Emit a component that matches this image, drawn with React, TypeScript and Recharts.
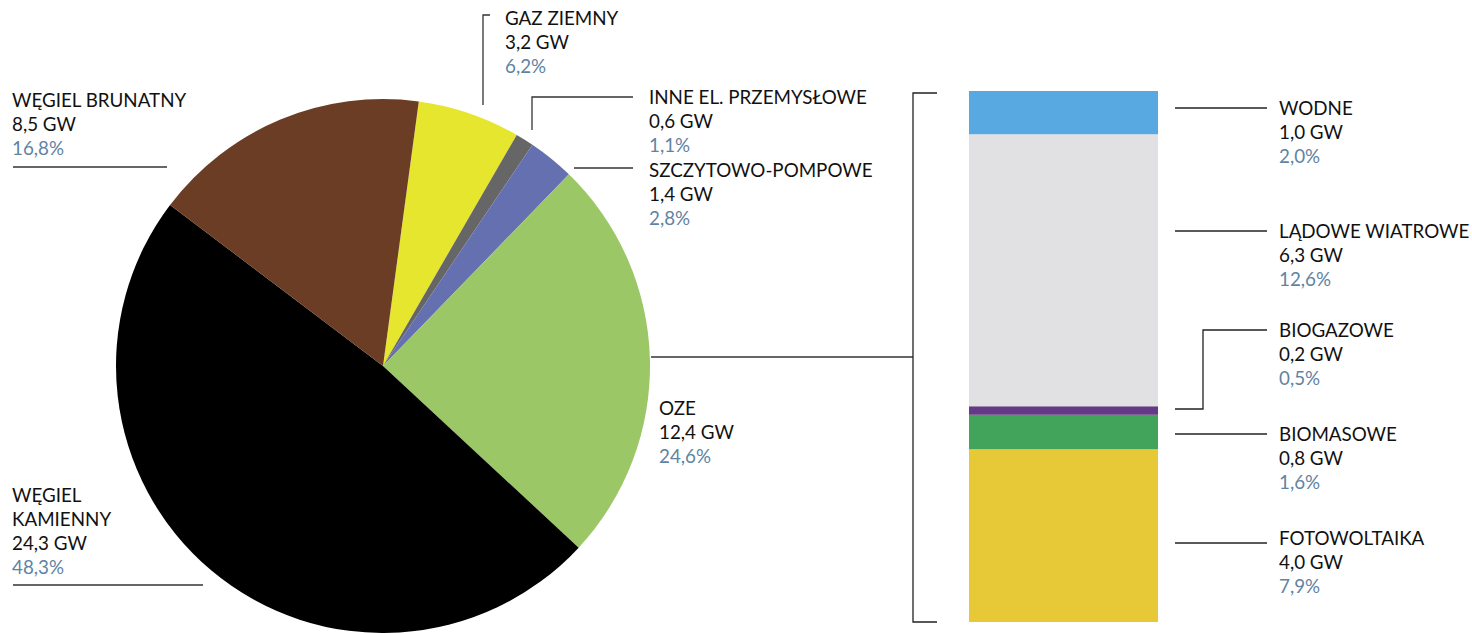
import { PieChart, Pie, Cell, BarChart, Bar, XAxis, YAxis } from 'recharts';

// main pie: installed capacity by source
const pieNames = ['GAZ ZIEMNY', 'INNE EL. PRZEMYSŁOWE', 'SZCZYTOWO-POMPOWE', 'OZE', 'WĘGIEL KAMIENNY', 'WĘGIEL BRUNATNY'];
const pieGW = [3.2, 0.6, 1.4, 12.4, 24.3, 8.5];
const piePct = [6.2, 1.1, 2.8, 24.6, 48.3, 16.8];
const pieColors = ['#e6e62e', '#666666', '#6470b0', '#9bc766', '#000000', '#6b3d24'];

// OZE breakdown (bottom to top)
const ozeNames = ['FOTOWOLTAIKA', 'BIOMASOWE', 'BIOGAZOWE', 'LĄDOWE WIATROWE', 'WODNE'];
const ozeGW = [4.0, 0.8, 0.2, 6.3, 1.0];
const ozePct = [7.9, 1.6, 0.5, 12.6, 2.0];
const ozeColors = ['#e7c836', '#42a45b', '#643985', '#e1e1e3', '#58a9e2'];

const pieData = pieNames.map((name, i) => ({ name, value: piePct[i] }));
const ozeRow: Record<string, number | string> = { name: 'OZE' };
ozeNames.forEach((n, i) => { ozeRow[n] = ozeGW[i]; });
const ozeTotal = ozeGW.reduce((a, b) => a + b, 0);

const fmt = (v: number) => v.toFixed(1).replace('.', ',');
const PCT_COLOR = '#5f84a2';
const FONT = 'Lato, "Open Sans", sans-serif';

// label layout: text x, first line center y, leader line points
const pieLabelLayout = [
  { x: 505, y: 18, lines: ['GAZ ZIEMNY'], leader: '490,15 483,15 483,105' },
  { x: 649, y: 97, lines: ['INNE EL. PRZEMYSŁOWE'], leader: '633,97 532,97 532,130' },
  { x: 649, y: 170, lines: ['SZCZYTOWO-POMPOWE'], leader: '633,168 574,168' },
  { x: 659, y: 408, lines: ['OZE'], leader: '' },
  { x: 12, y: 495, lines: ['WĘGIEL', 'KAMIENNY'], leader: '13,585 203,585' },
  { x: 12, y: 100, lines: ['WĘGIEL BRUNATNY'], leader: '13,167 167,167' },
];

const ozeLabelLayout = [
  { y: 538, leader: '1175,543 1267,543' },
  { y: 434, leader: '1175,434 1267,434' },
  { y: 330, leader: '1175,409 1203,409 1203,330 1267,330' },
  { y: 231, leader: '1175,231 1267,231' },
  { y: 108, leader: '1175,108 1267,108' },
];

const LabelBlock = ({ x, y, lines, gw, pct }: { x: number; y: number; lines: string[]; gw: number; pct: number }) => {
  const all = [...lines, `${fmt(gw)} GW`];
  return (
    <g fontFamily={FONT} fontSize={18.8}>
      {all.map((t, i) => (
        <text key={i} x={x} y={y + i * 24 + 7} fill="#111">{t}</text>
      ))}
      <text x={x} y={y + all.length * 24 + 7} fill={PCT_COLOR}>{`${fmt(pct)}%`}</text>
    </g>
  );
};

export default function App() {
  return (
    <div style={{ position: 'absolute', left: 0, top: 0, width: 1472, height: 633, background: '#fff' }}>
      <div style={{ position: 'absolute', left: 0, top: 0 }}>
        <PieChart width={1472} height={633} margin={{ top: 0, right: 0, bottom: 0, left: 0 }}>
          <Pie
            data={pieData}
            dataKey="value"
            cx={383}
            cy={366}
            outerRadius={267}
            startAngle={82.3}
            endAngle={82.3 - 360}
            stroke="none"
            isAnimationActive={false}
          >
            {pieData.map((d, i) => (
              <Cell key={d.name} fill={pieColors[i]} stroke="none" />
            ))}
          </Pie>
        </PieChart>
      </div>
      <div style={{ position: 'absolute', left: 969, top: 91 }}>
        <BarChart width={189} height={531} data={[ozeRow]} margin={{ top: 0, right: 0, bottom: 0, left: 0 }} barCategoryGap={0}>
          <XAxis dataKey="name" hide />
          <YAxis hide domain={[0, ozeTotal]} />
          {ozeNames.map((n, i) => (
            <Bar key={n} dataKey={n} stackId="oze" fill={ozeColors[i]} isAnimationActive={false} />
          ))}
        </BarChart>
      </div>
      <svg width={1472} height={633} style={{ position: 'absolute', left: 0, top: 0, pointerEvents: 'none' }}>
        {pieLabelLayout.map((l, i) => (
          <g key={pieNames[i]}>
            {l.leader && <polyline points={l.leader} fill="none" stroke="#333" strokeWidth={1.3} />}
            <LabelBlock x={l.x} y={l.y} lines={l.lines} gw={pieGW[i]} pct={piePct[i]} />
          </g>
        ))}
        {/* connector from OZE slice to the breakdown bar */}
        <polyline points="651,357 913,357" fill="none" stroke="#333" strokeWidth={1.3} />
        <polyline points="937,93 913,93 913,622 937,622" fill="none" stroke="#222" strokeWidth={1.3} />
        {ozeLabelLayout.map((l, i) => (
          <g key={ozeNames[i]}>
            <polyline points={l.leader} fill="none" stroke="#222" strokeWidth={1.3} />
            <LabelBlock x={1279} y={l.y} lines={[ozeNames[i]]} gw={ozeGW[i]} pct={ozePct[i]} />
          </g>
        ))}
      </svg>
    </div>
  );
}
